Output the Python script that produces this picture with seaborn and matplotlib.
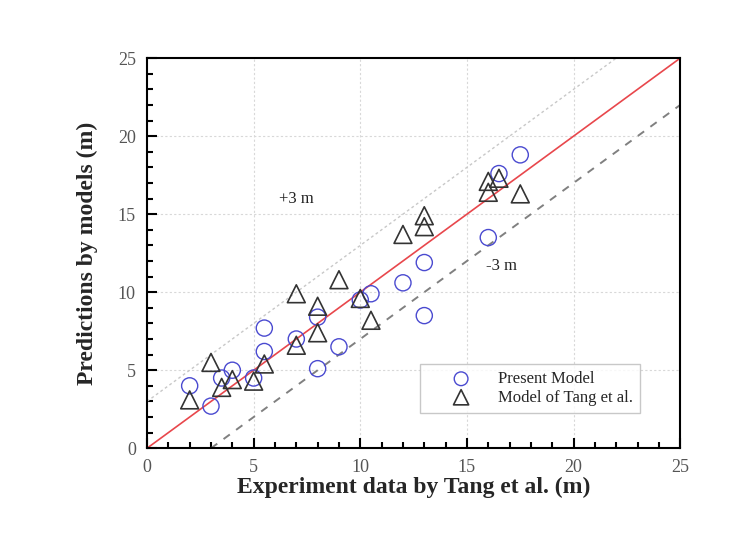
import numpy as np
import pandas as pd
import seaborn as sns
import matplotlib.pyplot as plt
from matplotlib.ticker import MultipleLocator

# Present model: experiment vs prediction
present_exp = [2, 3, 3.5, 4, 5, 5.5, 5.5, 7, 8, 8, 9, 10, 10.5, 12, 13, 13, 16, 16.5, 17.5]
present_pred = [4.0, 2.7, 4.5, 5.0, 4.5, 7.7, 6.2, 7.0, 8.4, 5.1, 6.5, 9.5, 9.9, 10.6, 11.9, 8.5, 13.5, 17.6, 18.8]

# Model of Tang et al.
tang_exp = [2, 3, 3.5, 4, 5, 5.5, 7, 7, 8, 8, 9, 10, 10.5, 12, 13, 13, 16, 16, 16.5, 17.5]
tang_pred = [3.1, 5.5, 3.9, 4.4, 4.3, 5.4, 9.9, 6.6, 9.1, 7.4, 10.8, 9.6, 8.2, 13.7, 14.9, 14.2, 17.1, 16.4, 17.3, 16.3]

# reference lines: perfect agreement and +/- 3 m bands
line_x = [0, 25]
band_offset = 3

df_present = pd.DataFrame({'exp': present_exp, 'pred': present_pred})
df_tang = pd.DataFrame({'exp': tang_exp, 'pred': tang_pred})

sns.set_style("white")
plt.rcParams['font.family'] = ['Liberation Serif', 'DejaVu Serif']

fig = plt.figure(figsize=(7.5, 5.33), dpi=100)
ax = fig.add_axes([0.196, 0.159, 0.711, 0.732])

# grid at major ticks
for v in [5, 10, 15, 20]:
    ax.axvline(v, color='#d8d8d8', lw=0.8, ls=(0, (2, 2)), zorder=0)
    ax.axhline(v, color='#d8d8d8', lw=0.8, ls=(0, (2, 2)), zorder=0)

# 1:1 line and +/- 3 m lines
ax.plot(line_x, line_x, color='#e8474c', lw=1.2, zorder=1)
ax.plot([0, 25 - band_offset], [band_offset, 25], color='#c8c8c8', lw=1.0,
        ls=(0, (2, 2)), zorder=1)
ax.plot([band_offset, 25], [0, 25 - band_offset], color='#808080', lw=1.4,
        ls=(0, (4, 4)), zorder=1)

sns.scatterplot(x='exp', y='pred', data=df_present, ax=ax, marker='o', s=135,
                facecolors='none', edgecolor='#4a4ad0', linewidth=1.0,
                label='Present Model', zorder=3)
sns.scatterplot(x='exp', y='pred', data=df_tang, ax=ax, marker='^', s=165,
                facecolors='none', edgecolor='#333333', linewidth=1.2,
                label='Model of Tang et al.', zorder=3)

ax.text(7.0, 16.0, '+3 m', fontsize=12, ha='center', va='center', color='#222222')
ax.text(16.6, 11.7, '-3 m', fontsize=12, ha='center', va='center', color='#222222')

ax.set_xlim(0, 25)
ax.set_ylim(0, 25)
ax.xaxis.set_major_locator(MultipleLocator(5))
ax.xaxis.set_minor_locator(MultipleLocator(1))
ax.yaxis.set_major_locator(MultipleLocator(5))
ax.yaxis.set_minor_locator(MultipleLocator(1))
ax.tick_params(which='both', direction='in', bottom=True, left=True,
               top=False, right=False, width=1.5, color='black',
               labelsize=13, labelcolor='#555555', pad=8)
ax.tick_params(which='major', length=7)
ax.tick_params(which='minor', length=4)

for sp in ax.spines.values():
    sp.set_visible(True)
    sp.set_color('black')
    sp.set_linewidth(1.5)

ax.set_xlabel('Experiment data by Tang et al. (m)', fontsize=17,
              fontweight='bold', labelpad=0)
ax.set_ylabel('Predictions by models (m)', fontsize=17,
              fontweight='bold', labelpad=14)

leg = ax.legend(loc='lower right', bbox_to_anchor=(0.925, 0.09), fontsize=12,
                frameon=True, fancybox=False, edgecolor='#bbbbbb',
                handlelength=4.0, handletextpad=0.2, markerscale=0.85,
                borderpad=0.45, labelspacing=0.15, borderaxespad=0)
leg.get_frame().set_linewidth(1.0)

fig.savefig('out.png', dpi=100)
